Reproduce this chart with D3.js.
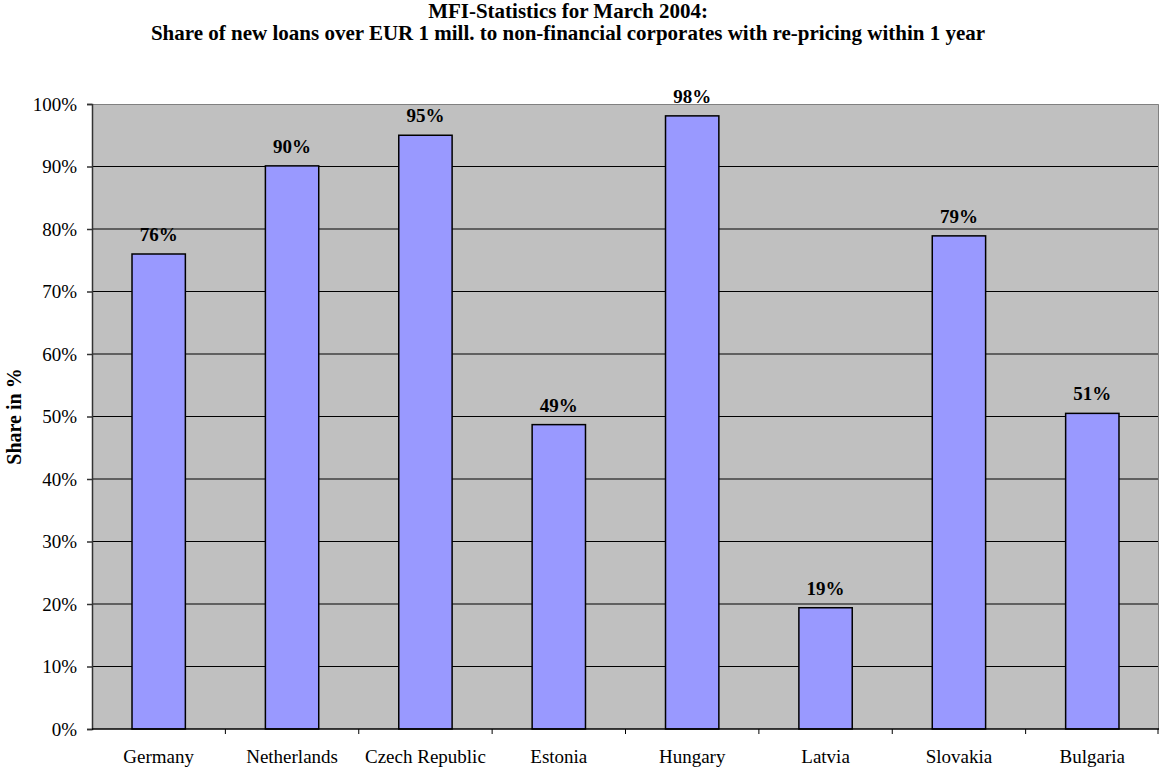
<!DOCTYPE html>
<html>
<head>
<meta charset="utf-8">
<script src="https://cdn.jsdelivr.net/npm/d3@7"></script>
<style>
  html, body { margin: 0; padding: 0; background: #fff; }
  svg { display: block; font-family: "Liberation Serif", "Times New Roman", serif; }
</style>
</head>
<body>
<svg id="chart" width="1160" height="772"></svg>
<script>
// Share of new loans over EUR 1 mill. re-priced within 1 year, March 2004
const countries = ["Germany", "Netherlands", "Czech Republic", "Estonia", "Hungary", "Latvia", "Slovakia", "Bulgaria"];
const shares = [76.0, 90.1, 95.0, 48.7, 98.1, 19.4, 78.9, 50.5];
const yTicks = [0, 10, 20, 30, 40, 50, 60, 70, 80, 90, 100];
const titleLines = [
  "MFI-Statistics for March 2004:",
  "Share of new loans over EUR 1 mill. to non-financial corporates with re-pricing within 1 year"
];
const yAxisTitle = "Share in %";

const svg = d3.select("#chart");
const plot = { left: 92, right: 1159, top: 104, bottom: 729 };

const x = d3.scaleBand().domain(countries).range([plot.left, plot.right]).paddingInner(0.6).paddingOuter(0.3);
const xOuter = d3.scaleBand().domain(countries).range([plot.left, plot.right]);
const y = d3.scaleLinear().domain([0, 100]).range([plot.bottom, plot.top]);

// plot background
svg.append("rect")
  .attr("x", plot.left).attr("y", plot.top)
  .attr("width", plot.right - plot.left).attr("height", plot.bottom - plot.top)
  .attr("fill", "#c0c0c0");

// horizontal gridlines
svg.append("g").selectAll("line").data(yTicks.filter(d => d > 0 && d < 100)).join("line")
  .attr("x1", plot.left).attr("x2", plot.right)
  .attr("y1", d => y(d)).attr("y2", d => y(d))
  .attr("stroke", "#000").attr("stroke-width", 1);

// top and right frame
svg.append("path")
  .attr("d", `M${plot.left},${plot.top + 0.5}H${plot.right - 0.5}V${plot.bottom}`)
  .attr("fill", "none").attr("stroke", "#808080").attr("stroke-width", 1);

// bars
svg.append("g").selectAll("rect").data(countries).join("rect")
  .attr("x", d => x(d))
  .attr("y", (d, i) => y(shares[i]))
  .attr("width", x.bandwidth())
  .attr("height", (d, i) => y(0) - y(shares[i]))
  .attr("fill", "#9999ff")
  .attr("stroke", "#000").attr("stroke-width", 1.5);

// value labels
svg.append("g").selectAll("text").data(countries).join("text")
  .attr("x", d => x(d) + x.bandwidth() / 2)
  .attr("y", (d, i) => y(shares[i]) - 13)
  .attr("text-anchor", "middle")
  .attr("font-size", 19).attr("font-weight", "bold")
  .text((d, i) => Math.round(shares[i]) + "%");

// y axis
const yAxis = d3.axisLeft(y).tickValues(yTicks).tickSize(5).tickFormat(d => d + "%");
const gy = svg.append("g").attr("transform", `translate(${plot.left},0)`).call(yAxis);
gy.select(".domain").attr("stroke", "#333").attr("stroke-width", 1.5);
gy.selectAll(".tick line").attr("stroke", "#333").attr("stroke-width", 1.5);
gy.selectAll(".tick text").attr("font-size", 19).attr("fill", "#000")
  .attr("font-family", "Liberation Serif, Times New Roman, serif").attr("x", -15);

// x axis with ticks at category boundaries
svg.append("line")
  .attr("x1", plot.left).attr("x2", plot.right)
  .attr("y1", plot.bottom).attr("y2", plot.bottom)
  .attr("stroke", "#000").attr("stroke-width", 1.5);
const bounds = countries.map(d => xOuter(d)).concat([plot.right - 1]);
svg.append("g").selectAll("line").data(bounds.slice(1)).join("line")
  .attr("x1", d => d).attr("x2", d => d)
  .attr("y1", plot.bottom).attr("y2", plot.bottom + 5)
  .attr("stroke", "#000").attr("stroke-width", 1);
svg.append("g").selectAll("text").data(countries).join("text")
  .attr("x", d => xOuter(d) + xOuter.bandwidth() / 2)
  .attr("y", 763)
  .attr("text-anchor", "middle")
  .attr("font-size", 19)
  .text(d => d);

// y axis title
svg.append("text")
  .attr("transform", `translate(21,${(plot.top + plot.bottom) / 2}) rotate(-90)`)
  .attr("text-anchor", "middle")
  .attr("font-size", 20).attr("font-weight", "bold")
  .text(yAxisTitle);

// chart title
svg.append("g").selectAll("text").data(titleLines).join("text")
  .attr("x", 568)
  .attr("y", (d, i) => 18 + i * 22)
  .attr("text-anchor", "middle")
  .attr("font-size", 21).attr("font-weight", "bold")
  .text(d => d);
</script>
</body>
</html>
